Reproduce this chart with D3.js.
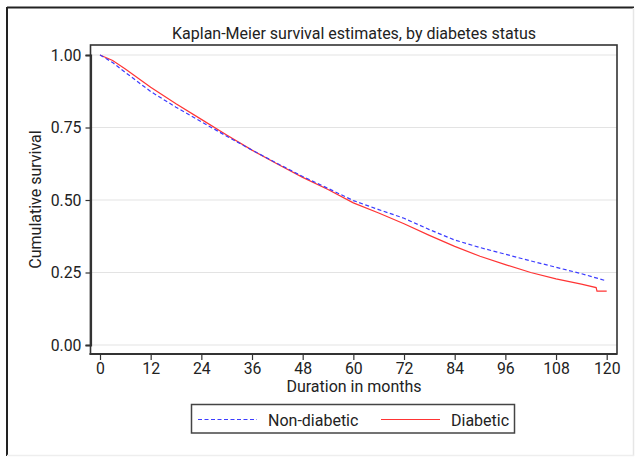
<!DOCTYPE html>
<html>
<head>
<meta charset="utf-8">
<script src="https://cdn.jsdelivr.net/npm/d3@7"></script>
<style>
  html, body { margin: 0; padding: 0; background: #fff; }
  svg { display: block; font-family: Roboto, "Liberation Sans", Arial, sans-serif; }
</style>
</head>
<body>
<svg id="chart" width="638" height="464"></svg>
<script>
// Kaplan-Meier survival estimates by diabetes status
const titleText = "Kaplan-Meier survival estimates, by diabetes status";
const xTitle = "Duration in months";
const yTitle = "Cumulative survival";
const seriesNames = ["Non-diabetic", "Diabetic"];

const xTicks = [0, 12, 24, 36, 48, 60, 72, 84, 96, 108, 120];
const yTicks = [0, 0.25, 0.5, 0.75, 1];

const monthsNonDiabetic = [0, 3, 6, 12, 18, 24, 30, 36, 42, 48, 54, 60, 66, 72, 78, 84, 90, 96, 102, 108, 114, 119.5];
const survNonDiabetic   = [1.000, 0.974, 0.940, 0.874, 0.820, 0.770, 0.720, 0.672, 0.626, 0.581, 0.540, 0.498, 0.467, 0.437, 0.398, 0.362, 0.336, 0.313, 0.290, 0.268, 0.246, 0.223];

const monthsDiabetic = [0, 3, 6, 12, 18, 24, 30, 36, 42, 48, 54, 60, 66, 72, 78, 84, 90, 96, 102, 108, 114, 117.5, 117.7, 120];
const survDiabetic   = [1.000, 0.981, 0.952, 0.889, 0.832, 0.778, 0.724, 0.672, 0.624, 0.578, 0.536, 0.490, 0.455, 0.418, 0.378, 0.340, 0.306, 0.277, 0.250, 0.228, 0.210, 0.198, 0.186, 0.186];

const svg = d3.select("#chart");
const fontFamily = "Roboto, 'Liberation Sans', Arial, sans-serif";

// outer frame
svg.append("line").attr("x1", 7).attr("y1", 7.5).attr("x2", 634).attr("y2", 7.5)
  .attr("stroke", "#222").attr("stroke-width", 2);
svg.append("line").attr("x1", 7).attr("y1", 7).attr("x2", 7).attr("y2", 456)
  .attr("stroke", "#222").attr("stroke-width", 2);
svg.append("line").attr("x1", 633.5).attr("y1", 8).attr("x2", 633.5).attr("y2", 456)
  .attr("stroke", "#e6e6e6").attr("stroke-width", 1.5);
svg.append("line").attr("x1", 7).attr("y1", 455.5).attr("x2", 634).attr("y2", 455.5)
  .attr("stroke", "#eeeeee").attr("stroke-width", 1.5);

const plot = { left: 90.5, right: 617, top: 45, bottom: 354 };

const x = d3.scaleLinear().domain([0, 120]).range([100, 606.7]);
const y = d3.scaleLinear().domain([0, 1]).range([345, 55]);

// gridlines
svg.append("g").selectAll("line").data(yTicks).join("line")
  .attr("x1", plot.left).attr("x2", plot.right)
  .attr("y1", d => y(d)).attr("y2", d => y(d))
  .attr("stroke", "#e3e3e3").attr("stroke-width", 1);

// plot frame
svg.append("rect")
  .attr("x", plot.left).attr("y", plot.top)
  .attr("width", plot.right - plot.left).attr("height", plot.bottom - plot.top)
  .attr("fill", "none").attr("stroke", "#333").attr("stroke-width", 1.6);

// axes
const yAxis = d3.axisLeft(y).tickValues(yTicks).tickFormat(d3.format(".2f")).tickSize(5).tickPadding(4);
const gy = svg.append("g").attr("transform", `translate(${plot.left},0)`).call(yAxis);
gy.select(".domain").attr("stroke", "#333").attr("stroke-width", 2.2);
gy.selectAll(".tick line").attr("stroke", "#333").attr("stroke-width", 1.2);
gy.selectAll(".tick text").attr("font-size", 15.8).attr("fill", "#222").attr("font-family", fontFamily);

const xAxis = d3.axisBottom(x).tickValues(xTicks).tickFormat(d3.format("d")).tickSize(6).tickPadding(3);
const gx = svg.append("g").attr("transform", `translate(0,${plot.bottom})`).call(xAxis);
gx.select(".domain").remove();
gx.append("line").attr("x1", plot.left - 1).attr("x2", plot.right).attr("y1", 0).attr("y2", 0)
  .attr("stroke", "#333").attr("stroke-width", 2);
gx.selectAll(".tick line").attr("stroke", "#333").attr("stroke-width", 1.2);
gx.selectAll(".tick text").attr("font-size", 15.8).attr("fill", "#222").attr("font-family", fontFamily);

// survival curves
const line = d3.line().x(d => x(d[0])).y(d => y(d[1])).curve(d3.curveLinear);
const nonDiab = monthsNonDiabetic.map((m, i) => [m, survNonDiabetic[i]]);
const diab = monthsDiabetic.map((m, i) => [m, survDiabetic[i]]);

svg.append("path").datum(diab).attr("d", line)
  .attr("fill", "none").attr("stroke", "#ff3434").attr("stroke-width", 1.2);
svg.append("path").datum(nonDiab).attr("d", line)
  .attr("fill", "none").attr("stroke", "#3c3cff").attr("stroke-width", 1.2)
  .attr("stroke-dasharray", "4,2.5");

// titles
svg.append("text").attr("x", 354).attr("y", 39).attr("text-anchor", "middle")
  .attr("font-size", 16).attr("fill", "#222").text(titleText);
svg.append("text").attr("x", 354).attr("y", 391.5).attr("text-anchor", "middle")
  .attr("font-size", 16).attr("fill", "#222").text(xTitle);
svg.append("text").attr("transform", "translate(40.5,199.5) rotate(-90)").attr("text-anchor", "middle")
  .attr("font-size", 16).attr("fill", "#222").text(yTitle);

// legend
const lg = svg.append("g");
lg.append("rect").attr("x", 191.5).attr("y", 404.5).attr("width", 323).attr("height", 28.5)
  .attr("fill", "#fff").attr("stroke", "#444").attr("stroke-width", 1.5);
lg.append("line").attr("x1", 198).attr("x2", 257).attr("y1", 419.5).attr("y2", 419.5)
  .attr("stroke", "#3c3cff").attr("stroke-width", 1.2).attr("stroke-dasharray", "4,2.5");
lg.append("text").attr("x", 268).attr("y", 425.5).attr("font-size", 16).attr("fill", "#222").text(seriesNames[0]);
lg.append("line").attr("x1", 381).attr("x2", 440).attr("y1", 419.5).attr("y2", 419.5)
  .attr("stroke", "#ff3434").attr("stroke-width", 1.2);
lg.append("text").attr("x", 451).attr("y", 425.5).attr("font-size", 16).attr("fill", "#222").text(seriesNames[1]);
</script>
</body>
</html>
